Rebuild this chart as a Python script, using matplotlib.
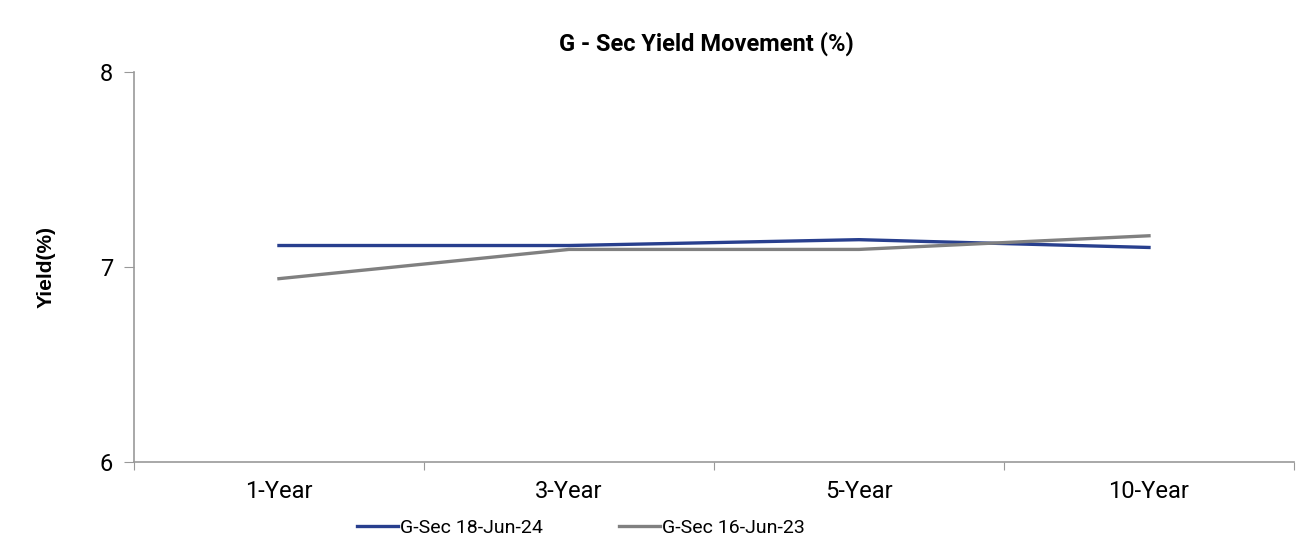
import matplotlib.pyplot as plt
import numpy as np

tenors = ['1-Year', '3-Year', '5-Year', '10-Year']
yield_jun24 = [7.11, 7.11, 7.14, 7.10]
yield_jun23 = [6.94, 7.09, 7.09, 7.16]
series_names = ['G-Sec 18-Jun-24', 'G-Sec 16-Jun-23']

fig = plt.figure(figsize=(13.08, 5.37), dpi=100)
ax = fig.add_axes([0.1024, 0.1397, 0.8869, 0.7263])

x = np.arange(len(tenors))
ax.plot(x, yield_jun24, color='#283f8e', linewidth=2.4, label=series_names[0])
ax.plot(x, yield_jun23, color='#808080', linewidth=2.4, label=series_names[1])

ax.set_xlim(-0.5, len(tenors) - 0.5)
ax.set_ylim(6, 8)
ax.set_yticks([6, 7, 8])
ax.set_yticklabels(['6', '7', '8'], fontfamily='Roboto', fontsize=17)

# category labels sit between the tick marks
ax.set_xticks(np.arange(-0.5, len(tenors)), minor=False)
ax.set_xticklabels([])
ax.set_xticks(x, minor=True)
ax.set_xticklabels(tenors, minor=True, fontfamily='Roboto', fontsize=17)
ax.tick_params(axis='x', which='minor', length=0, pad=13)
ax.tick_params(axis='x', which='major', length=6, color='#999999', direction='out')
ax.tick_params(axis='y', length=7, color='#999999', pad=8)

for side in ['top', 'right']:
    ax.spines[side].set_visible(False)
for side in ['left', 'bottom']:
    ax.spines[side].set_color('#999999')
    ax.spines[side].set_linewidth(1.2)

ax.set_ylabel('Yield(%)', fontfamily='Liberation Sans', fontweight='bold',
              fontsize=15, labelpad=32)
fig.text(0.54, 0.918, 'G - Sec Yield Movement (%)', ha='center', va='center',
         fontfamily='Roboto', fontweight='bold', fontsize=17)

fig.legend(loc='center', bbox_to_anchor=(0.444, 0.017), bbox_transform=fig.transFigure,
           ncol=2, frameon=False, prop={'family': 'Roboto', 'size': 14},
           handlelength=2.1, handletextpad=0.1, columnspacing=3.9,
           borderpad=0, borderaxespad=0)

plt.savefig('out.png', dpi=100)
